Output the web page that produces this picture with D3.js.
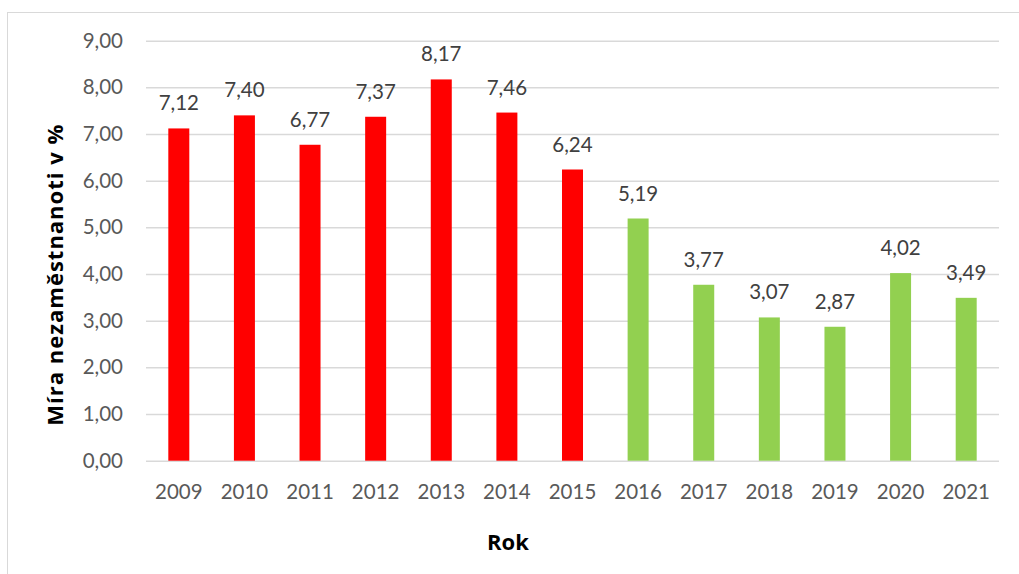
<!DOCTYPE html>
<html><head><meta charset="utf-8">
<script src="https://cdn.jsdelivr.net/npm/d3@7"></script>
<style>body{margin:0;background:#fff}svg{display:block}</style>
</head><body>
<svg id="c" width="1019" height="574"></svg>
<script>
const years = ["2009","2010","2011","2012","2013","2014","2015","2016","2017","2018","2019","2020","2021"];
const values = [7.12,7.40,6.77,7.37,8.17,7.46,6.24,5.19,3.77,3.07,2.87,4.02,3.49];
const barColors = ["#FF0000","#FF0000","#FF0000","#FF0000","#FF0000","#FF0000","#FF0000","#92D050","#92D050","#92D050","#92D050","#92D050","#92D050"];
const yTicks = [0,1,2,3,4,5,6,7,8,9];
const yTitle = "Míra nezaměstnanoti v %";
const xTitle = "Rok";

const fmt = v => v.toFixed(2).replace(".", ",");
const font = "Lato, 'Open Sans', sans-serif";
const boldFont = "'Open Sans', Lato, sans-serif";
const svg = d3.select("#c");
const pL = 146, pR = 999, pT = 40.7, pB = 460.7;

svg.append("rect").attr("x",7.5).attr("y",12.5).attr("width",1030).attr("height",600)
  .attr("fill","none").attr("stroke","#d9d9d9").attr("stroke-width",1);

const x = d3.scaleBand().domain(years).range([pL,pR]).paddingInner(0.68).paddingOuter(0.34);
const y = d3.scaleLinear().domain([0,9]).range([pB,pT]);

const yAxis = svg.append("g").attr("transform",`translate(${pL},0)`)
  .call(d3.axisLeft(y).tickValues(yTicks).tickFormat(fmt).tickSize(-(pR-pL)).tickPadding(23));
yAxis.select(".domain").remove();
yAxis.selectAll("line").attr("stroke","#d9d9d9").attr("stroke-width",1.5);
yAxis.selectAll("text").attr("fill","#595959").style("font-family",font).style("font-size","20.5px");

const xAxis = svg.append("g").attr("transform",`translate(0,${pB})`)
  .call(d3.axisBottom(x).tickSize(0).tickPadding(24));
xAxis.select(".domain").remove();
xAxis.selectAll("text").attr("fill","#595959").style("font-family",font).style("font-size","20.5px");

svg.append("g").selectAll("rect").data(values).join("rect")
  .attr("x",(d,i)=>x(years[i])).attr("width",x.bandwidth())
  .attr("y",d=>y(d)).attr("height",d=>pB-y(d))
  .attr("fill",(d,i)=>barColors[i]);

svg.append("g").selectAll("text").data(values).join("text")
  .attr("x",(d,i)=>x(years[i])+x.bandwidth()/2).attr("y",d=>y(d)-18)
  .attr("text-anchor","middle").attr("fill","#404040")
  .style("font-family",font).style("font-size","20.5px").text(fmt);

svg.append("text").attr("transform",`translate(63,${(pT+pB)/2+24}) rotate(-90)`)
  .attr("text-anchor","middle").attr("fill","#000").style("font-family",boldFont)
  .style("font-size","22px").style("font-weight","bold").style("letter-spacing","1px").text(yTitle);
svg.append("text").attr("x",508).attr("y",550)
  .attr("text-anchor","middle").attr("fill","#000").style("font-family",boldFont)
  .style("font-size","22px").style("font-weight","bold").text(xTitle);
</script>
</body></html>
